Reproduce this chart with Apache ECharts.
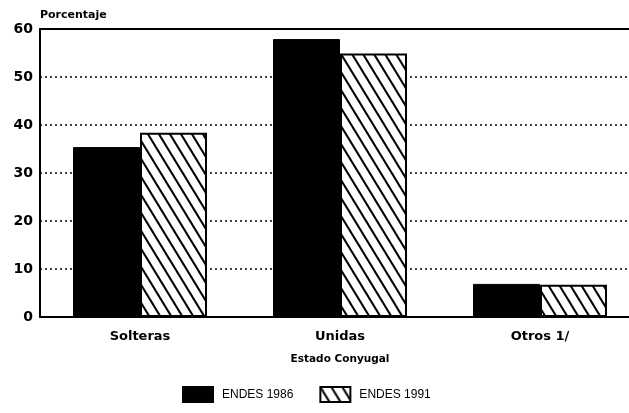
<!DOCTYPE html>
<html><head><meta charset="utf-8">
<script src="https://cdn.jsdelivr.net/npm/echarts@6/dist/echarts.min.js"></script>
<style>html,body{margin:0;padding:0;background:#fff}#c{width:629px;height:413px}</style>
</head><body><div id="c"></div>
<script>
const categories = ['Solteras', 'Unidas', 'Otros 1/'];
const endes1986 = [35.4, 57.9, 6.9];
const endes1991 = [38.4, 54.9, 6.7];
const seriesNames = ['ENDES 1986', 'ENDES 1991'];
const yMin = 0, yMax = 60, yInterval = 10;

function hatch() {
  const w = 11, h = 18;
  const c = document.createElement('canvas');
  c.width = w; c.height = h;
  const g = c.getContext('2d');
  g.fillStyle = '#fff'; g.fillRect(0, 0, w, h);
  g.strokeStyle = '#000'; g.lineWidth = 2;
  for (let n = -1; n <= 1; n++) {
    g.beginPath(); g.moveTo(n * w - w, -h); g.lineTo(n * w + 2 * w, 2 * h); g.stroke();
  }
  return c;
}

const chart = echarts.init(document.getElementById('c'), null, {renderer: 'canvas'});
const pat = {image: hatch(), repeat: 'repeat'};
const boldFont = {fontFamily: 'DejaVu Sans', fontWeight: 'bold', color: '#000'};

chart.setOption({
  animation: false,
  backgroundColor: '#fff',
  grid: {left: 40, top: 29, width: 600, height: 288, outerBoundsMode: 'none', containLabel: false},
  legend: {
    left: 182, top: 386, padding: 0, itemWidth: 30, itemHeight: 15, itemGap: 26, icon: 'rect',
    data: seriesNames,
    textStyle: {fontFamily: 'Liberation Sans', fontSize: 12, color: '#000', padding: [0, 0, 0, 4]}
  },
  xAxis: [{
    type: 'category', data: categories,
    axisLine: {lineStyle: {color: '#000', width: 2}},
    axisTick: {show: false},
    axisLabel: Object.assign({fontSize: 13, margin: 13}, boldFont),
    name: 'Estado Conyugal', nameLocation: 'middle', nameGap: 37,
    nameTextStyle: Object.assign({fontSize: 10.5}, boldFont)
  }, {
    type: 'category', position: 'top', data: categories,
    axisLine: {lineStyle: {color: '#000', width: 2}},
    axisTick: {show: false}, axisLabel: {show: false}
  }],
  yAxis: {
    type: 'value', min: yMin, max: yMax, interval: yInterval,
    axisLine: {show: true, lineStyle: {color: '#000', width: 2}},
    axisTick: {show: false},
    axisLabel: Object.assign({fontSize: 14, margin: 7}, boldFont),
    splitLine: {lineStyle: {color: '#000', width: 1.5, type: [2, 3]}},
    name: 'Porcentaje', nameLocation: 'end', nameGap: 8,
    nameTextStyle: Object.assign({fontSize: 11, align: 'left'}, boldFont)
  },
  series: [{
    name: seriesNames[0], type: 'bar', data: endes1986, barWidth: 67, barGap: '0%',
    itemStyle: {color: '#000', borderColor: '#000', borderWidth: 1}
  }, {
    name: seriesNames[1], type: 'bar', data: endes1991, barWidth: 67, barGap: '0%',
    itemStyle: {color: pat, borderColor: '#000', borderWidth: 2}
  }]
});
</script></body></html>
